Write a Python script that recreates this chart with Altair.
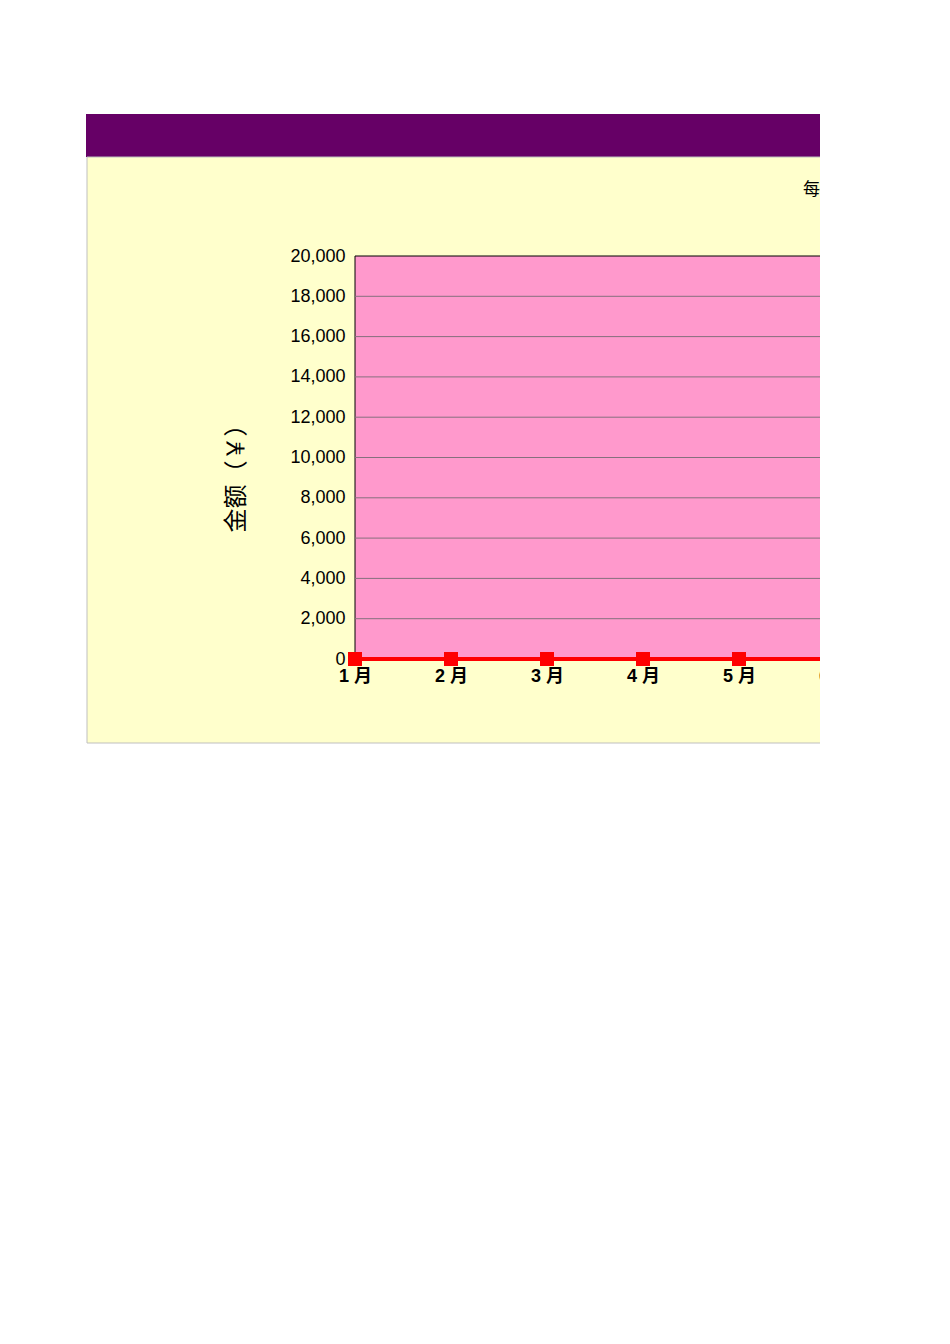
import altair as alt
import pandas as pd

# ---- data ----
months = ["1月", "2月", "3月", "4月", "5月", "6月",
          "7月", "8月", "9月", "10月", "11月", "12月"]
amounts = [0, 0, 0, 0, 0, 0, 0, 0, 0, 0, 0, 0]
y_ticks = [0, 2000, 4000, 6000, 8000, 10000, 12000, 14000, 16000, 18000, 20000]
grid_values = [2000, 4000, 6000, 8000, 10000, 12000, 14000, 16000, 18000]
chart_title = "每月收支统计图"
y_title = "金额（￥）"

FONT = "Liberation Sans, Arial, Noto Sans CJK SC"

df = pd.DataFrame({"month": months, "amount": amounts})
grid_df = pd.DataFrame({"amount": grid_values})
one = pd.DataFrame({"k": [0]})

W, H = 465, 403

x_axis = alt.Axis(title=None, labelAngle=0, domain=False, ticks=False,
                  tickSize=0, grid=False, labelPadding=8,
                  labelExpr="replace(datum.label, '月', ' 月')",
                  labelFont=FONT, labelFontSize=18, labelFontWeight="bold",
                  labelColor="#000000", labelBaseline="top", zindex=1)
x_enc = alt.X("month:O", sort=months,
              scale=alt.Scale(type="point", padding=0, range=[0, 96 * 11]),
              axis=x_axis)
y_scale = alt.Scale(domain=[0, 20000], nice=False, zero=True)
y_axis = alt.Axis(values=y_ticks, labelExpr="format(datum.value, ',')",
                  domain=False, ticks=False,
                  tickSize=0, grid=False, labelPadding=10,
                  labelFont=FONT, labelFontSize=18, labelColor="#000000",
                  title=y_title, titleFont=FONT, titleFontSize=24,
                  titleFontWeight="normal", titleColor="#000000",
                  titleX=-119, titleY=216, titleAngle=270,
                  titleBaseline="middle", titleAlign="center", zindex=1)
y_enc = alt.Y("amount:Q", scale=y_scale, axis=y_axis)

header = alt.Chart(one).mark_rect(color="#660066").encode(
    x=alt.value(-269), x2=alt.value(900), y=alt.value(-142), y2=alt.value(-99))
panel = alt.Chart(one).mark_rect(fill="#FFFFCC", stroke="#BFBFBF", strokeWidth=1).encode(
    x=alt.value(-268), x2=alt.value(900), y=alt.value(-99), y2=alt.value(487))
plotbg = alt.Chart(one).mark_rect(fill="#FF99CC", stroke="#000000", strokeWidth=1).encode(
    x=alt.value(0), x2=alt.value(900), y=alt.value(0), y2=alt.value(H))
grid = alt.Chart(grid_df).mark_rule(color="#86707D", strokeWidth=1).encode(
    y=y_enc, x=alt.value(0), x2=alt.value(900))
line = alt.Chart(df).mark_line(color="#FF0000", strokeWidth=4).encode(x=x_enc, y=y_enc)
pts = alt.Chart(df).mark_square(size=196, color="#FF0000", opacity=1).encode(
    x=x_enc, y=y_enc)
title = alt.Chart(one).mark_text(align="left", baseline="middle", fontSize=17,
                                 font=FONT, color="#000000", text=chart_title).encode(
    x=alt.value(448), y=alt.value(-66))

chart = alt.layer(header, panel, plotbg, grid, line, pts, title).properties(
    width=W, height=H,
    autosize=alt.AutoSizeParams(type="none"),
    padding={"left": 347, "top": 248, "right": 0, "bottom": 85},
    background="#FFFFFF",
).configure_view(stroke=None, fill=None)

chart.save("out.html", embed_options={"renderer": "svg", "actions": False})
